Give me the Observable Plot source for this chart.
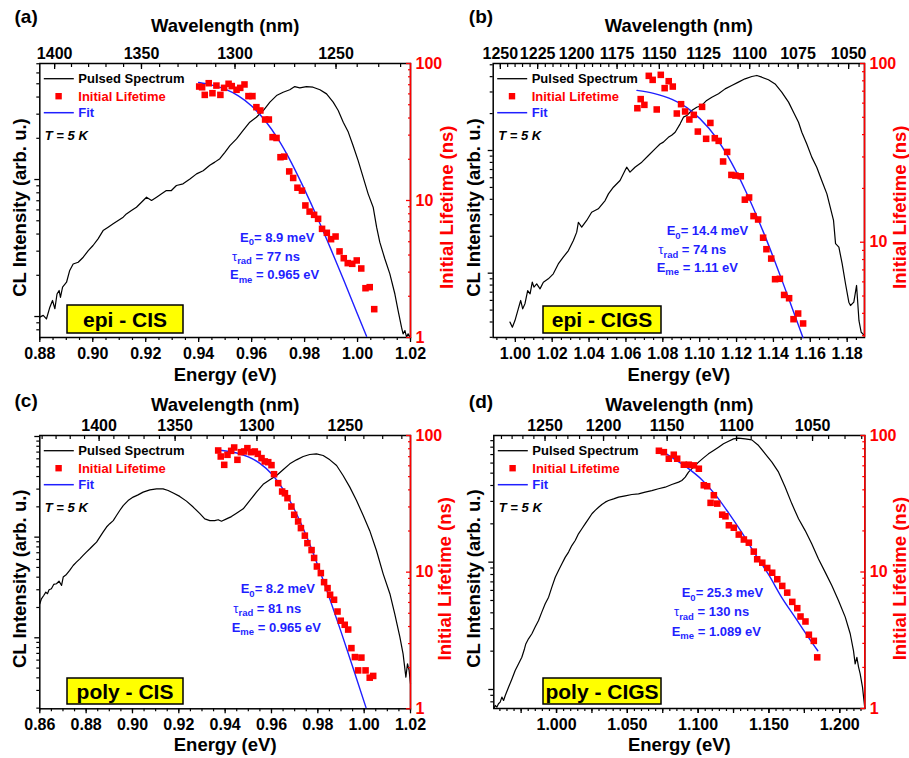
<!DOCTYPE html>
<html><head><meta charset="utf-8">
<script src="https://cdn.jsdelivr.net/npm/d3@7"></script>
<script src="https://cdn.jsdelivr.net/npm/@observablehq/plot@0.6"></script>
<style>
html,body{margin:0;padding:0;background:#fff;}
#page{position:relative;width:909px;height:758px;overflow:hidden;background:#fff;}
#page svg{position:absolute;}
</style></head><body><div id="page"></div>
<script>
const HC = 1239.84; // eV·nm, wavelength = HC / energy

// ---------- (a) epi - CIS ----------
const aSpecE = [0.8800,0.8813,0.8825,0.8838,0.8848,0.8857,0.8865,0.8873,0.8878,0.8886,
 0.8901,0.8913,0.8926,0.8945,0.8964,0.8983,0.9001,0.9020,0.9039,0.9058,
 0.9077,0.9096,0.9115,0.9127,0.9146,0.9165,0.9184,0.9203,0.9222,0.9241,
 0.9260,0.9278,0.9297,0.9316,0.9341,0.9367,0.9392,0.9417,0.9442,0.9461,
 0.9480,0.9499,0.9518,0.9543,0.9568,0.9593,0.9618,0.9644,0.9669,0.9694,
 0.9719,0.9744,0.9763,0.9782,0.9807,0.9832,0.9858,0.9883,0.9908,0.9927,
 0.9946,0.9965,0.9983,1.0002,1.0021,1.0040,1.0059,1.0072,1.0084,1.0103,
 1.0122,1.0141,1.0153,1.0166,1.0172,1.0179,1.0185,1.0191,1.0200];
const aSpecI = [0.99,1.02,0.96,1.17,1.31,1.14,1.46,1.55,1.38,1.64,
 1.78,2.17,2.42,2.49,2.71,3.03,3.30,3.69,4.24,4.49,
 4.75,5.02,5.31,5.61,5.94,6.28,6.83,7.43,7.03,7.43,
 7.86,8.31,8.31,9.04,9.30,10.1,11.0,11.6,12.7,13.4,
 14.2,15.8,17.7,19.8,22.8,26.2,28.5,31.9,36.7,41.0,
 43.4,45.2,47.7,46.7,47.7,47.2,45.2,42.2,36.7,31.9,
 26.2,22.2,17.7,13.8,10.4,7.86,6.28,4.49,3.49,2.64,
 2.05,1.46,1.11,0.836,0.747,0.79,0.71,0.747,0.70];
const aLifeE = [0.9402,0.9413,0.9423,0.9438,0.9452,0.9467,0.9482,0.9496,0.9513,0.9525,
 0.9543,0.9557,0.9573,0.9588,0.9603,0.9618,0.9633,0.9651,0.9665,0.9679,
 0.9694,0.9709,0.9723,0.9742,0.9757,0.9773,0.9790,0.9803,0.9819,0.9836,
 0.9851,0.9866,0.9884,0.9900,0.9917,0.9932,0.9948,0.9963,0.9980,0.9997,
 1.0014,1.0030,1.0046,1.0063];
const aLifeT = [67.9,67.1,59.0,71.8,60.7,69.0,59.0,66.4,71.1,68.4,
 64.3,66.4,70.3,57.8,57.8,48.0,45.4,39.0,39.0,29.0,
 28.6,20.7,20.9,16.3,14.6,12.4,11.8,9.2,8.3,7.86,
 7.35,6.21,5.81,5.22,5.46,4.25,3.79,3.49,3.45,3.65,
 3.19,2.29,2.33,1.61];
const aFitE = [0.940,0.945,0.950,0.955,0.960,0.965,0.970,0.975,0.980,0.985,0.990,0.995,1.000,1.0034];
const aFitT = [72.6,69.6,65.0,58.1,49.0,38.5,28.0,18.9,12.0,7.36,4.38,2.56,1.48,1.02];
const aETicks = [0.88,0.90,0.92,0.94,0.96,0.98,1.00,1.02];
const aWlTicks = [1400,1350,1300,1250];
const aFitText = ["8.9 meV","77 ns","0.965 eV"];

// ---------- (b) epi - CIGS ----------
const bSpecE = [0.9971,0.9984,0.9998,1.0016,1.0029,1.0040,1.0052,1.0067,1.0080,1.0092,
 1.0101,1.0116,1.0134,1.0152,1.0179,1.0206,1.0233,1.0260,1.0288,1.0315,
 1.0333,1.0342,1.0360,1.0387,1.0414,1.0450,1.0487,1.0505,1.0532,1.0568,
 1.0595,1.0604,1.0622,1.0649,1.0686,1.0722,1.0758,1.0785,1.0803,1.0830,
 1.0848,1.0867,1.0894,1.0912,1.0930,1.0957,1.0984,1.1011,1.1038,1.1066,
 1.1102,1.1138,1.1174,1.1210,1.1246,1.1283,1.1310,1.1337,1.1373,1.1409,
 1.1445,1.1482,1.1509,1.1536,1.1554,1.1581,1.1608,1.1635,1.1662,1.1690,
 1.1708,1.1726,1.1737,1.1755,1.1773,1.1791,1.1809,1.1818,1.1836,1.1851,
 1.1864,1.1876,1.1894];
const bSpecI = [0.399,0.363,0.411,0.512,0.599,0.512,0.562,0.722,0.679,0.845,
 0.769,0.818,0.745,0.845,0.899,0.988,1.19,1.35,1.53,1.85,
 2.16,2.60,2.37,2.69,3.14,3.35,3.91,4.43,5.02,5.69,
 6.87,7.31,6.66,7.31,8.03,9.10,10.3,11.3,11.7,12.8,
 13.3,14.1,16.5,18.7,19.3,21.2,22.5,23.3,25.6,27.2,
 29.0,31.8,33.9,36.1,38.4,40.1,40.9,39.6,37.7,34.9,
 29.9,24.8,20.5,17.0,14.1,11.3,8.83,7.31,5.69,4.43,
 3.45,2.69,1.74,1.63,1.19,0.82,0.58,0.545,0.58,0.794,
 0.41,0.33,0.31];
const bLifeE = [1.0662,1.0680,1.0700,1.0724,1.0745,1.0767,1.0789,1.0810,1.0832,1.0854,
 1.0876,1.0899,1.0921,1.0944,1.0968,1.0990,1.1013,1.1035,1.1058,1.1082,
 1.1103,1.1127,1.1149,1.1172,1.1194,1.1223,1.1245,1.1268,1.1292,1.1317,
 1.1344,1.1362,1.1388,1.1409,1.1435,1.1458,1.1485,1.1509,1.1534,1.1561];
const bLifeT = [56.2,63.2,58.7,85.3,81.0,55.3,86.4,72.8,79.6,74.3,
 52.5,59.2,53.9,48.6,51.6,41.6,57.2,37.9,46.5,38.2,
 36.9,28.3,32.0,23.8,23.6,23.4,17.3,17.8,14.0,13.4,
 10.6,9.14,8.10,6.21,6.24,5.07,4.86,3.71,3.99,3.51];
const bFitE = [1.066,1.075,1.085,1.095,1.105,1.115,1.125,1.135,1.145,1.150,1.156];
const bFitT = [70.7,68.0,62.9,54.7,43.4,30.6,19.3,11.1,5.98,4.33,2.93];
const bETicks = [1.00,1.02,1.04,1.06,1.08,1.10,1.12,1.14,1.16,1.18];
const bWlTicks = [1250,1225,1200,1175,1150,1125,1100,1075,1050];
const bFitText = ["14.4 meV","74 ns","1.11 eV"];

// ---------- (c) poly - CIS ----------
const cSpecE = [0.8600,0.8607,0.8617,0.8626,0.8633,0.8640,0.8650,0.8660,0.8672,0.8683,
 0.8694,0.8701,0.8715,0.8729,0.8744,0.8758,0.8773,0.8787,0.8801,0.8816,
 0.8830,0.8845,0.8859,0.8873,0.8888,0.8902,0.8917,0.8931,0.8945,0.8960,
 0.8981,0.9003,0.9024,0.9046,0.9075,0.9104,0.9132,0.9154,0.9176,0.9204,
 0.9233,0.9262,0.9291,0.9312,0.9334,0.9355,0.9370,0.9384,0.9406,0.9427,
 0.9449,0.9478,0.9506,0.9535,0.9564,0.9593,0.9622,0.9650,0.9679,0.9708,
 0.9737,0.9765,0.9794,0.9823,0.9852,0.9881,0.9909,0.9938,0.9967,0.9996,
 1.0024,1.0053,1.0082,1.0111,1.0132,1.0154,1.0168,1.0180,1.0187,1.0194,
 1.0200];
const cSpecI = [2.18,2.44,2.63,2.84,2.74,3.00,3.07,3.39,3.44,3.66,
 3.31,4.01,4.26,4.67,5.23,5.64,6.09,6.58,7.10,7.66,
 8.26,8.92,10.0,11.2,12.6,13.6,14.6,16.4,18.4,20.6,
 23.1,25.0,26.3,28.0,29.5,30.2,30.2,29.1,27.4,25.4,
 22.8,19.9,17.1,15.2,14.6,14.6,14.9,14.4,15.2,16.0,
 17.3,19.1,23.1,28.0,33.5,37.2,41.0,46.7,53.5,58.6,
 63.3,66.2,67.3,64.8,58.6,51.5,41.0,31.4,23.1,16.4,
 11.6,7.37,4.32,2.74,1.73,1.02,0.693,0.407,0.552,0.474,
 0.349];
const cLifeE = [0.9370,0.9381,0.9396,0.9410,0.9426,0.9439,0.9453,0.9468,0.9482,0.9496,
 0.9512,0.9528,0.9541,0.9557,0.9571,0.9586,0.9600,0.9611,0.9629,0.9646,
 0.9658,0.9669,0.9686,0.9698,0.9715,0.9727,0.9744,0.9755,0.9773,0.9784,
 0.9796,0.9813,0.9827,0.9842,0.9853,0.9870,0.9885,0.9899,0.9916,0.9931,
 0.9945,0.9960,0.9988,0.9974,1.0006,1.0024,1.0039];
const cLifeT = [77.7,70.2,61.0,72.2,77.2,81.7,66.4,75.5,76.4,80.8,
 75.5,76.4,73.4,68.3,64.6,63.8,60.7,52.1,44.8,38.9,
 37.8,34.8,30.2,26.3,23.5,21.0,18.5,16.3,14.5,12.7,
 11.0,9.84,8.45,7.64,6.83,6.28,5.15,4.41,4.12,3.80,
 2.78,2.39,2.37,1.91,1.91,1.69,1.74];
const cFitE = [0.937,0.945,0.950,0.955,0.960,0.965,0.970,0.975,0.980,0.985,0.990,0.995,1.0008];
const cFitT = [78.4,74.5,69.8,62.5,52.5,40.5,28.5,18.5,11.2,6.50,3.67,2.04,1.02];
const cETicks = [0.86,0.88,0.90,0.92,0.94,0.96,0.98,1.00,1.02];
const cWlTicks = [1400,1350,1300,1250];
const cFitText = ["8.2 meV","81 ns","0.965 eV"];

// ---------- (d) poly - CIGS ----------
const dSpecE = [0.9557,0.9567,0.9579,0.9590,0.9602,0.9614,0.9626,0.9638,0.9661,0.9685,
 0.9708,0.9732,0.9755,0.9774,0.9783,0.9802,0.9826,0.9849,0.9873,0.9896,
 0.9920,0.9944,0.9967,0.9991,1.0014,1.0038,1.0061,1.0085,1.0108,1.0132,
 1.0155,1.0179,1.0202,1.0226,1.0250,1.0273,1.0297,1.0320,1.0344,1.0367,
 1.0403,1.0438,1.0485,1.0532,1.0579,1.0626,1.0673,1.0720,1.0767,1.0814,
 1.0862,1.0885,1.0909,1.0932,1.0967,1.1003,1.1038,1.1073,1.1109,1.1144,
 1.1179,1.1215,1.1250,1.1285,1.1332,1.1379,1.1427,1.1474,1.1521,1.1568,
 1.1615,1.1662,1.1709,1.1756,1.1803,1.1850,1.1897,1.1944,1.1991,1.2039,
 1.2074,1.2097,1.2109,1.2121,1.2133,1.2144,1.2161,1.2177];
const dSpecI = [0.709,0.749,0.727,0.772,0.795,0.871,0.820,0.897,1.04,1.21,
 1.41,1.59,1.79,2.09,2.28,2.50,2.74,3.09,3.48,4.05,
 4.71,5.31,6.36,7.62,8.60,9.70,10.9,12.0,13.5,14.8,
 16.7,18.3,20.0,21.9,24.0,25.5,27.0,28.4,29.6,30.5,
 31.4,32.4,33.2,34.0,34.4,35.5,36.5,37.7,38.8,40.7,
 42.5,43.8,46.5,50.9,55.7,61.0,65.9,70.9,75.3,80.0,
 85.0,89.1,93.0,94.1,93.0,91.3,82.4,70.9,61.0,50.9,
 38.8,28.7,21.9,17.7,13.9,10.6,8.35,6.56,5.00,3.70,
 2.74,2.02,1.59,1.79,1.50,1.33,1.04,0.709];
const dLifeE = [1.0723,1.0758,1.0793,1.0828,1.0852,1.0899,1.0934,1.0970,1.1005,1.1040,
 1.1064,1.1111,1.1088,1.1135,1.1170,1.1193,1.1217,1.1252,1.1287,1.1323,
 1.1358,1.1393,1.1417,1.1453,1.1488,1.1523,1.1559,1.1594,1.1629,1.1665,
 1.1700,1.1723,1.1758,1.1782,1.1817,1.1841];
const dLifeT = [77.3,75.5,67.6,72.3,67.6,61.1,61.1,60.4,57.1,43.2,
 42.5,36.5,32.1,31.7,26.3,25.6,22.0,21.1,18.8,17.3,
 16.4,14.1,12.4,11.7,10.7,9.88,8.85,7.91,7.06,6.04,
 5.43,4.72,4.34,3.47,3.13,2.37];
const dFitE = [1.0720,1.0838,1.0932,1.1026,1.1121,1.1215,1.1309,1.1403,1.1497,1.1591,1.1686,1.1780,1.1845];
const dFitT = [80.0,66.6,57.2,47.5,36.9,27.1,19.4,13.5,9.6,6.49,4.63,3.31,2.65];
const dETicks = [1.000,1.050,1.100,1.150,1.200];
const dWlTicks = [1250,1200,1150,1100,1050];
const dFitText = ["25.3 meV","130 ns","1.089 eV"];

const lifeTicks = [1,10,100];
const legendLabels = ["Pulsed Spectrum","Initial Lifetime","Fit"];

// ---------- drawing ----------
const FONT = '"Liberation Sans", Arial, Helvetica, sans-serif';
const RED = "#ff0000", BLUE = "#1f1fff", BLACK = "#000";

function stepTicks(lo, hi, step) {
  const out = [];
  for (let i = Math.ceil(lo / step - 1e-6); i * step <= hi + 1e-9; i++) out.push(+(i * step).toFixed(6));
  return out;
}
function decades(dom) {
  const [lo, hi] = dom, maj = [], min = [];
  for (let k = Math.floor(Math.log10(lo)) - 1; k <= Math.ceil(Math.log10(hi)); k++) {
    for (let m = 1; m < 10; m++) {
      const v = +(m * Math.pow(10, k)).toPrecision(6);
      if (v >= lo * 0.999 && v <= hi * 1.001) (m === 1 ? maj : min).push(v);
    }
  }
  return {maj, min};
}
const zip = (E, V, k) => E.map((e, i) => ({E: e, [k]: V[i]}));

const panels = [
  {letter:"(a)", ox:0, oy:0, w:455, h:385, L:39.3, R:410, T:63, B:337,
   xDomain:[0.88,1.02], iDomain:[0.703,70.3], tDomain:[1,100],
   eTicks:aETicks, eMidStep:null, eDigits:2, wlTicks:aWlTicks, wlStep:10,
   letterDx:-25.3, letterDy:-40.5, wlDy:-31.5, eDy:43.5, clDx:-19.7, clDy:7, ilDx:37, ilDy:6.7,
   sample:"epi - CIS", box:[67,305,116,28], ann:[[240,241.7],[232,260.7],[230,279.3]], fitText:aFitText,
   spec:zip(aSpecE,aSpecI,"I"), life:zip(aLifeE,aLifeT,"T"), fit:zip(aFitE,aFitT,"T")},
  {letter:"(b)", ox:454, oy:0, w:455, h:385, L:492.7, R:864, T:63, B:337,
   xDomain:[0.988,1.1894], iDomain:[0.299,51.2], tDomain:[2.93,100],
   eTicks:bETicks, eMidStep:null, eDigits:2, wlTicks:bWlTicks, wlStep:5,
   letterDx:-24.4, letterDy:-40.5, wlDy:-31.5, eDy:43, clDx:-18.7, clDy:7, ilDx:36, ilDy:6.7,
   sample:"epi - CIGS", box:[89,306,118,27], ann:[[212.7,235],[204.3,254],[202.7,271.7]], fitText:bFitText,
   spec:zip(bSpecE,bSpecI,"I"), life:zip(bLifeE,bLifeT,"T"), fit:zip(bFitE,bFitT,"T")},
  {letter:"(c)", ox:0, oy:385, w:455, h:373, L:39.3, R:410, T:435, B:708.3,
   xDomain:[0.86,1.02], iDomain:[0.197,102.3], tDomain:[1,100],
   eTicks:cETicks, eMidStep:null, eDigits:2, wlTicks:cWlTicks, wlStep:10,
   letterDx:-25.3, letterDy:-29, wlDy:-24.7, eDy:41.7, clDx:-20.1, clDy:6.6, ilDx:35, ilDy:6.6,
   sample:"poly - CIS", box:[67,293,116,26], ann:[[240.7,208.3],[233.3,227.7],[231.7,246.7]], fitText:cFitText,
   spec:zip(cSpecE,cSpecI,"I"), life:zip(cLifeE,cLifeT,"T"), fit:zip(cFitE,cFitT,"T")},
  {letter:"(d)", ox:454, oy:385, w:455, h:373, L:493.3, R:864.3, T:435, B:708,
   xDomain:[0.9557,1.2177], iDomain:[0.709,98.8], tDomain:[1,100],
   eTicks:dETicks, eMidStep:0.025, eDigits:3, wlTicks:dWlTicks, wlStep:10,
   letterDx:-25, letterDy:-28, wlDy:-25, eDy:42, clDx:-19.3, clDy:6.6, ilDx:35.7, ilDy:6.6,
   sample:"poly - CIGS", box:[89,293,118,26], ann:[[227.7,212],[220,231],[217.7,250.5]], fitText:dFitText,
   spec:zip(dSpecE,dSpecI,"I"), life:zip(dLifeE,dLifeT,"T"), fit:zip(dFitE,dFitT,"T")}
];

const page = document.getElementById("page");
const STYLE = `font-family:${FONT};font-weight:bold;font-size:16px;background:transparent;overflow:visible;`;

for (const p of panels) {
  const common = {
    width: p.w, height: p.h,
    marginLeft: p.L - p.ox, marginRight: p.ox + p.w - p.R,
    marginTop: p.T - p.oy, marginBottom: p.oy + p.h - p.B,
    style: STYLE
  };
  const [x0, x1] = p.xDomain;
  const eMinor = stepTicks(x0, x1, 0.005);
  const eMid = p.eMidStep ? stepTicks(x0, x1, p.eMidStep) : [];
  const wlMajorE = p.wlTicks.map(w => HC / w);
  const wlMinorE = stepTicks(HC / x1, HC / x0, p.wlStep).map(w => HC / w);
  const iT = decades(p.iDomain), tT = decades(p.tDomain);
  const noText = () => "";

  const main = Plot.plot({
    ...common,
    x: {domain: p.xDomain},
    y: {type: "log", domain: p.iDomain},
    marks: [
      Plot.line(p.spec, {x: "E", y: "I", stroke: BLACK, strokeWidth: 1.2}),
      Plot.axisX({anchor: "bottom", ticks: eMinor, tickSize: 3, tickFormat: noText, label: null, strokeWidth: 1.2}),
      Plot.axisX({anchor: "bottom", ticks: eMid, tickSize: 5, tickFormat: noText, label: null, strokeWidth: 1.3}),
      Plot.axisX({anchor: "bottom", ticks: p.eTicks, tickSize: 5, tickPadding: 4.7, label: null, strokeWidth: 1.3,
                  tickFormat: d => d.toFixed(p.eDigits), fontSize: 16}),
      Plot.axisX({anchor: "top", ticks: wlMinorE, tickSize: -3, tickFormat: noText, label: null, strokeWidth: 1.2}),
      Plot.axisX({anchor: "top", ticks: wlMajorE, tickSize: -5, tickPadding: 9.7, label: null, strokeWidth: 1.3,
                  tickFormat: e => String(Math.round(HC / e)), fontSize: 16}),
      Plot.axisY({anchor: "left", ticks: iT.min, tickSize: 3, tickFormat: noText, label: null, strokeWidth: 1.2}),
      Plot.axisY({anchor: "left", ticks: iT.maj, tickSize: 5, tickFormat: noText, label: null, strokeWidth: 1.3}),
      Plot.frame({stroke: BLACK, strokeWidth: 1.5}),
      Plot.text([p.letter], {text: d => d, frameAnchor: "top-left", dx: p.letterDx, dy: p.letterDy,
                 textAnchor: "start", lineAnchor: "bottom", fontSize: 19}),
      Plot.text(["Wavelength (nm)"], {text: d => d, frameAnchor: "top", dy: p.wlDy, textAnchor: "middle", lineAnchor: "bottom", fontSize: 18.5}),
      Plot.text(["Energy (eV)"], {text: d => d, frameAnchor: "bottom", dy: p.eDy, textAnchor: "middle", lineAnchor: "bottom", fontSize: 18.5}),
      Plot.text(["CL Intensity (arb. u.)"], {text: d => d, frameAnchor: "left", rotate: -90, dx: p.clDx, dy: p.clDy,
                 textAnchor: "middle", lineAnchor: "middle", fontSize: 18.5})
    ]
  });

  const over = Plot.plot({
    ...common,
    x: {domain: p.xDomain, axis: null},
    y: {type: "log", domain: p.tDomain},
    marks: [
      Plot.ruleX([x1], {stroke: RED, strokeWidth: 1.5}),
      Plot.axisY({anchor: "right", ticks: tT.min, tickSize: -3, tickFormat: noText, color: RED, label: null, strokeWidth: 1.2}),
      Plot.axisY({anchor: "right", ticks: lifeTicks.filter(v => v >= p.tDomain[0] * 0.999), tickSize: -5, tickPadding: 10,
                  tickFormat: d => String(d), color: RED, label: null, strokeWidth: 1.3, fontSize: 16}),
      Plot.line(p.fit, {x: "E", y: "T", stroke: BLUE, strokeWidth: 1.4, curve: "monotone-x"}),
      Plot.dot(p.life, {x: "E", y: "T", symbol: "square", r: 3.7, fill: RED, stroke: "none"}),
      Plot.text(["Initial Lifetime (ns)"], {text: d => d, frameAnchor: "right", rotate: -90, dx: p.ilDx, dy: p.ilDy,
                 textAnchor: "middle", lineAnchor: "middle", fill: RED, fontSize: 18.5})
    ]
  });

  for (const s of [main, over]) {
    s.style.left = p.ox + "px";
    s.style.top = p.oy + "px";
    page.appendChild(s);
  }

  // legend, temperature, fit parameters and sample label
  const g = d3.select(over).append("g").attr("font-family", FONT).attr("font-weight", "bold").attr("text-anchor", "start");
  const lx = p.L - p.ox, ly = p.T - p.oy;
  const rows = [15.7, 33.2, 49.7];
  g.append("line").attr("x1", lx + 4.5).attr("x2", lx + 34.5).attr("y1", ly + rows[0]).attr("y2", ly + rows[0])
    .attr("stroke", BLACK).attr("stroke-width", 1.3);
  g.append("rect").attr("x", lx + 19.3 - 3.2).attr("y", ly + rows[1] - 3.2).attr("width", 6.4).attr("height", 6.4).attr("fill", RED);
  g.append("line").attr("x1", lx + 4.5).attr("x2", lx + 34.5).attr("y1", ly + rows[2]).attr("y2", ly + rows[2])
    .attr("stroke", BLUE).attr("stroke-width", 1.5);
  [BLACK, RED, BLUE].forEach((c, i) => {
    g.append("text").attr("x", lx + 39).attr("y", ly + rows[i] + 4.6).attr("font-size", 13).attr("fill", c).text(legendLabels[i]);
  });
  g.append("text").attr("x", lx + 5.5).attr("y", ly + 77).attr("font-size", 13).attr("font-style", "italic")
    .attr("fill", BLACK).text("T = 5 K");

  const subs = [["E", "0", "= " + p.fitText[0]], ["\u03C4", "rad", " = " + p.fitText[1]], ["E", "me", " = " + p.fitText[2]]];
  subs.forEach(([main1, sub, rest], i) => {
    const t = g.append("text").attr("x", p.ann[i][0]).attr("y", p.ann[i][1]).attr("font-size", 13).attr("fill", BLUE);
    const m = t.append("tspan").text(main1);
    if (i === 1) m.attr("font-weight", "normal");
    t.append("tspan").attr("font-size", 9.5).attr("dy", 3.5).text(sub);
    t.append("tspan").attr("dy", -3.5).text(rest);
  });

  const [bx, by, bw, bh] = p.box;
  g.append("rect").attr("x", bx).attr("y", by).attr("width", bw).attr("height", bh)
    .attr("fill", "#ffff00").attr("stroke", BLACK).attr("stroke-width", 1.5);
  g.append("text").attr("x", bx + bw / 2).attr("y", by + bh / 2 + 7.5).attr("text-anchor", "middle")
    .attr("font-size", 21).attr("fill", BLACK).text(p.sample);
}
</script></body></html>
